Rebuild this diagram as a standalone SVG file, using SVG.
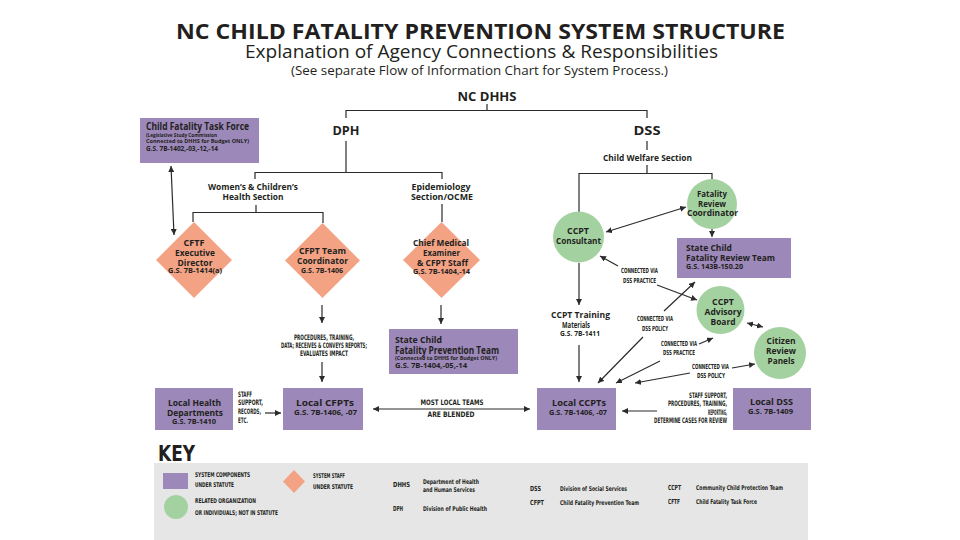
<svg xmlns="http://www.w3.org/2000/svg" width="960" height="540" viewBox="0 0 960 540">
<style>
text{font-family:"Open Sans","Liberation Sans",sans-serif;fill:#231f20;font-weight:700}
.m{text-anchor:middle}
.n{font-weight:400}
.c{font-family:"Liberation Sans Narrow","DejaVu Sans Condensed","Liberation Sans",sans-serif;font-weight:700}
.box{fill:#9c88b9}
.dia{fill:#f3a384}
.cir{fill:#a3d2a0}
.ln{fill:none;stroke:#2b2b2b;stroke-width:1.2}
.ar{fill:none;stroke:#2b2b2b;stroke-width:1.2;marker-end:url(#ah)}
.ar2{fill:none;stroke:#2b2b2b;stroke-width:1.2;marker-end:url(#ah);marker-start:url(#ah)}
.ars{fill:none;stroke:#2b2b2b;stroke-width:1.2;marker-start:url(#ah)}
</style>
<defs>
<marker id="ah" viewBox="0 0 6 6" refX="6" refY="3" markerWidth="6" markerHeight="6" markerUnits="userSpaceOnUse" orient="auto-start-reverse"><path d="M0,0 L6,3 L0,6 z" fill="#2b2b2b"/></marker>
</defs>
<rect width="960" height="540" fill="#ffffff"/>

<g id="title">
<text class="m" x="480.5" y="38.5" font-size="20.5" font-weight="800" textLength="609" lengthAdjust="spacingAndGlyphs">NC CHILD FATALITY PREVENTION SYSTEM STRUCTURE</text>
<text class="m n" x="481.5" y="58" font-size="18.5" textLength="473" lengthAdjust="spacingAndGlyphs">Explanation of Agency Connections &amp; Responsibilities</text>
<text class="m n" x="479.5" y="75" font-size="12" textLength="377" lengthAdjust="spacingAndGlyphs">(See separate Flow of Information Chart for System Process.)</text>
</g>

<g id="connectors">
<path class="ln" d="M487,104 V110.5 M346,118 V110.5 H647 V118"/>
<path class="ln" d="M346,141 V172.5 M255,179 V172.5 H442 V179"/>
<path class="ln" d="M256,205 V212.5 M193,222 V212.5 H323 V223"/>
<path class="ln" d="M442,204 V222"/>
<path class="ln" d="M647,141 V150 M647,165 V173.5 M579,212 V173.5 H712 V179"/>
<path class="ar2" d="M171,166 L174,235"/>
<path class="ar" d="M322,305 V323"/>
<path class="ar" d="M322,362 V382"/>
<path class="ar" d="M441,305 V324" stroke-width="2"/>
<path class="ar" d="M265,413 H281"/>
<path class="ar2" d="M373,409 H530"/>
<path class="ar" d="M657,411 H622"/>
<path class="ar2" d="M606,232 L686,207"/>
<path class="ar" d="M712,229 V237"/>
<path class="ar" d="M579,263 V305"/>
<path class="ar" d="M579,345 V382"/>
<path class="ars" d="M600,256 L618,266"/>
<path class="ar" d="M657,285 L697,300"/>
<path class="ars" d="M598,383 L643,337"/>
<path class="ar" d="M664,311 L695,282"/>
<path class="ars" d="M616,383 L660,361"/>
<path class="ar" d="M699,344 L713,338"/>
<path class="ars" d="M635,383 L690,373"/>
<path class="ar" d="M732,368 L755,364"/>
<path class="ar2" d="M747,323 L763,327"/>
</g>

<g id="labels">
<text class="m" x="487" y="101" font-size="12" textLength="59" lengthAdjust="spacingAndGlyphs">NC DHHS</text>
<text class="m" x="346" y="135" font-size="12" textLength="27" lengthAdjust="spacingAndGlyphs">DPH</text>
<text class="m" x="647" y="135" font-size="12" textLength="27" lengthAdjust="spacingAndGlyphs">DSS</text>
<text class="m" x="647.5" y="161" font-size="8" textLength="89" lengthAdjust="spacingAndGlyphs">Child Welfare Section</text>
<text class="m" x="253" y="190" font-size="8.5" textLength="90" lengthAdjust="spacingAndGlyphs">Women’s &amp; Children’s</text>
<text class="m" x="253" y="200" font-size="8.5" textLength="61" lengthAdjust="spacingAndGlyphs">Health Section</text>
<text class="m" x="441" y="190" font-size="8.5" textLength="59" lengthAdjust="spacingAndGlyphs">Epidemiology</text>
<text class="m" x="442" y="200" font-size="8.5" textLength="62" lengthAdjust="spacingAndGlyphs">Section/OCME</text>
<text class="m c" x="324" y="340" font-size="7.5" textLength="60" lengthAdjust="spacingAndGlyphs">PROCEDURES, TRAINING,</text>
<text class="m c" x="324" y="348" font-size="7.5" textLength="86" lengthAdjust="spacingAndGlyphs">DATA; RECEIVES &amp; CONVEYS REPORTS;</text>
<text class="m c" x="324" y="356" font-size="7.5" textLength="48" lengthAdjust="spacingAndGlyphs">EVALUATES IMPACT</text>
<text class="c" x="238" y="397" font-size="7.5" textLength="14" lengthAdjust="spacingAndGlyphs">STAFF</text>
<text class="c" x="238" y="405" font-size="7.5" textLength="25" lengthAdjust="spacingAndGlyphs">SUPPORT,</text>
<text class="c" x="238" y="414" font-size="7.5" textLength="23" lengthAdjust="spacingAndGlyphs">RECORDS,</text>
<text class="c" x="238" y="423" font-size="7.5" textLength="10" lengthAdjust="spacingAndGlyphs">ETC.</text>
<text class="m c" x="452" y="405" font-size="7.5" textLength="63" lengthAdjust="spacingAndGlyphs">MOST LOCAL TEAMS</text>
<text class="m c" x="451" y="417" font-size="7.5" textLength="47" lengthAdjust="spacingAndGlyphs">ARE BLENDED</text>
<text class="c" x="727" y="398" font-size="7.5" text-anchor="end" textLength="38" lengthAdjust="spacingAndGlyphs">STAFF SUPPORT,</text>
<text class="c" x="727" y="406" font-size="7.5" text-anchor="end" textLength="59" lengthAdjust="spacingAndGlyphs">PROCEDURES, TRAINING,</text>
<text class="c" x="727" y="415" font-size="7.5" text-anchor="end" textLength="19" lengthAdjust="spacingAndGlyphs">REPORTING,</text>
<text class="c" x="727" y="423" font-size="7.5" text-anchor="end" textLength="73" lengthAdjust="spacingAndGlyphs">DETERMINE CASES FOR REVIEW</text>
<text class="m c" x="639.5" y="273" font-size="7" textLength="37" lengthAdjust="spacingAndGlyphs">CONNECTED VIA</text>
<text class="m c" x="639.5" y="283" font-size="7" textLength="33" lengthAdjust="spacingAndGlyphs">DSS PRACTICE</text>
<text class="m c" x="655" y="321" font-size="7" textLength="36" lengthAdjust="spacingAndGlyphs">CONNECTED VIA</text>
<text class="m c" x="655" y="331" font-size="7" textLength="26" lengthAdjust="spacingAndGlyphs">DSS POLICY</text>
<text class="m c" x="679" y="346" font-size="7" textLength="36" lengthAdjust="spacingAndGlyphs">CONNECTED VIA</text>
<text class="m c" x="679" y="355" font-size="7" textLength="32" lengthAdjust="spacingAndGlyphs">DSS PRACTICE</text>
<text class="m c" x="710.5" y="369" font-size="7" textLength="37" lengthAdjust="spacingAndGlyphs">CONNECTED VIA</text>
<text class="m c" x="711" y="378" font-size="7" textLength="28" lengthAdjust="spacingAndGlyphs">DSS POLICY</text>
</g>

<g id="cftf-box">
<rect class="box" x="140" y="118" width="119" height="45"/>
<text x="146" y="130" font-size="10" textLength="103" lengthAdjust="spacingAndGlyphs">Child Fatality Task Force</text>
<text x="146" y="136.5" font-size="5.5" textLength="71" lengthAdjust="spacingAndGlyphs">(Legislative Study Commission</text>
<text x="146" y="142.5" font-size="5.5" textLength="103" lengthAdjust="spacingAndGlyphs">Connected to DHHS for Budget ONLY)</text>
<text x="146" y="150.5" font-size="7" textLength="72" lengthAdjust="spacingAndGlyphs">G.S. 7B-1402,-03,-12,-14</text>
</g>

<g id="cftf-director">
<polygon class="dia" points="194,222 232,260 194,298 156,260"/>
<text class="m" x="194" y="246" font-size="9" textLength="21" lengthAdjust="spacingAndGlyphs">CFTF</text>
<text class="m" x="195" y="256" font-size="9" textLength="40" lengthAdjust="spacingAndGlyphs">Executive</text>
<text class="m" x="195" y="266" font-size="9" textLength="35" lengthAdjust="spacingAndGlyphs">Director</text>
<text class="m" x="195" y="273" font-size="6.5" textLength="54" lengthAdjust="spacingAndGlyphs">G.S. 7B-1414(a)</text>
</g>

<g id="cfpt-coordinator">
<polygon class="dia" points="322.5,223 360,260.5 322.5,298 285,260.5"/>
<text class="m" x="322.5" y="254" font-size="9" textLength="47" lengthAdjust="spacingAndGlyphs">CFPT Team</text>
<text class="m" x="322.5" y="264" font-size="9" textLength="51" lengthAdjust="spacingAndGlyphs">Coordinator</text>
<text class="m" x="322" y="273" font-size="7" textLength="42" lengthAdjust="spacingAndGlyphs">G.S. 7B-1406</text>
</g>

<g id="chief-medical-examiner">
<polygon class="dia" points="441.5,222 480,260 441.5,298 403,260"/>
<text class="m" x="441" y="246" font-size="9" textLength="56" lengthAdjust="spacingAndGlyphs">Chief Medical</text>
<text class="m" x="441.5" y="256" font-size="9" textLength="37" lengthAdjust="spacingAndGlyphs">Examiner</text>
<text class="m" x="442.5" y="266" font-size="9" textLength="51" lengthAdjust="spacingAndGlyphs">&amp; CFPT Staff</text>
<text class="m" x="441.5" y="274" font-size="6.5" textLength="57" lengthAdjust="spacingAndGlyphs">G.S. 7B-1404,-14</text>
</g>

<g id="state-cfpt">
<rect class="box" x="389" y="329" width="129" height="45"/>
<text x="395" y="343" font-size="9.5" textLength="47" lengthAdjust="spacingAndGlyphs">State Child</text>
<text x="395" y="353.5" font-size="10.5" textLength="104" lengthAdjust="spacingAndGlyphs">Fatality Prevention Team</text>
<text x="395" y="360" font-size="5.5" textLength="102" lengthAdjust="spacingAndGlyphs">(Connected to DHHS for Budget ONLY)</text>
<text x="395" y="368" font-size="7" textLength="72" lengthAdjust="spacingAndGlyphs">G.S. 7B-1404,-05,-14</text>
</g>

<g id="local-health">
<rect class="box" x="155" y="388" width="78" height="42"/>
<text class="m" x="194.5" y="406" font-size="9.5" textLength="53" lengthAdjust="spacingAndGlyphs">Local Health</text>
<text class="m" x="195" y="416" font-size="9.5" textLength="56" lengthAdjust="spacingAndGlyphs">Departments</text>
<text class="m" x="194" y="424" font-size="7" textLength="44" lengthAdjust="spacingAndGlyphs">G.S. 7B-1410</text>
</g>

<g id="local-cfpts">
<rect class="box" x="283" y="388" width="80" height="42"/>
<text class="m" x="325" y="406" font-size="9.5" textLength="58" lengthAdjust="spacingAndGlyphs">Local CFPTs</text>
<text class="m" x="325.5" y="415" font-size="7" textLength="63" lengthAdjust="spacingAndGlyphs">G.S. 7B-1406, -07</text>
</g>

<g id="local-ccpts">
<rect class="box" x="537" y="388" width="79" height="42"/>
<text class="m" x="579" y="406" font-size="9.5" textLength="54" lengthAdjust="spacingAndGlyphs">Local CCPTs</text>
<text class="m" x="578" y="415" font-size="7" textLength="58" lengthAdjust="spacingAndGlyphs">G.S. 7B-1406, -07</text>
</g>

<g id="local-dss">
<rect class="box" x="733" y="388" width="78" height="42"/>
<text class="m" x="771.5" y="405" font-size="9.5" textLength="43" lengthAdjust="spacingAndGlyphs">Local DSS</text>
<text class="m" x="770.5" y="414" font-size="7" textLength="45" lengthAdjust="spacingAndGlyphs">G.S. 7B-1409</text>
</g>

<g id="fatality-review-coordinator">
<circle class="cir" cx="712" cy="204" r="25"/>
<text class="m" x="712" y="197" font-size="8.5" textLength="30" lengthAdjust="spacingAndGlyphs">Fatality</text>
<text class="m" x="712" y="207" font-size="8.5" textLength="28" lengthAdjust="spacingAndGlyphs">Review</text>
<text class="m" x="712.5" y="216" font-size="8.5" textLength="51" lengthAdjust="spacingAndGlyphs">Coordinator</text>
</g>

<g id="ccpt-consultant">
<circle class="cir" cx="578.5" cy="237" r="25.5"/>
<text class="m" x="578" y="234" font-size="8.5" textLength="22" lengthAdjust="spacingAndGlyphs">CCPT</text>
<text class="m" x="578.5" y="244" font-size="8.5" textLength="45" lengthAdjust="spacingAndGlyphs">Consultant</text>
</g>

<g id="state-cfrt">
<rect class="box" x="677" y="238" width="114" height="40"/>
<text x="686" y="251" font-size="9" textLength="46" lengthAdjust="spacingAndGlyphs">State Child</text>
<text x="686" y="261" font-size="9" textLength="89" lengthAdjust="spacingAndGlyphs">Fatality Review Team</text>
<text x="686" y="269" font-size="6.5" textLength="57" lengthAdjust="spacingAndGlyphs">G.S. 143B-150.20</text>
</g>

<g id="ccpt-training">
<text class="m" x="580.5" y="318" font-size="9" textLength="59" lengthAdjust="spacingAndGlyphs">CCPT Training</text>
<text class="m" x="576" y="328" font-size="9" textLength="28" lengthAdjust="spacingAndGlyphs">Materials</text>
<text class="m" x="580" y="336" font-size="6.5" textLength="40" lengthAdjust="spacingAndGlyphs">G.S. 7B-1411</text>
</g>

<g id="ccpt-advisory-board">
<circle class="cir" cx="720.5" cy="310" r="24"/>
<text class="m" x="723" y="305" font-size="8.5" textLength="22" lengthAdjust="spacingAndGlyphs">CCPT</text>
<text class="m" x="723" y="315" font-size="8.5" textLength="37" lengthAdjust="spacingAndGlyphs">Advisory</text>
<text class="m" x="723" y="325" font-size="8.5" textLength="25" lengthAdjust="spacingAndGlyphs">Board</text>
</g>

<g id="citizen-review-panels">
<circle class="cir" cx="780" cy="353" r="26"/>
<text class="m" x="781" y="344" font-size="8.5" textLength="29" lengthAdjust="spacingAndGlyphs">Citizen</text>
<text class="m" x="781" y="354" font-size="8.5" textLength="30" lengthAdjust="spacingAndGlyphs">Review</text>
<text class="m" x="781" y="364" font-size="8.5" textLength="27" lengthAdjust="spacingAndGlyphs">Panels</text>
</g>

<g id="key">
<text class="c" x="158" y="461" font-size="21" textLength="37" lengthAdjust="spacingAndGlyphs">KEY</text>
<rect x="154" y="463" width="654" height="77" fill="#e6e6e6"/>
<rect class="box" x="163" y="473" width="25" height="16"/>
<circle class="cir" cx="176" cy="507" r="12"/>
<polygon class="dia" points="294,470 305,481.5 294,493 283,481.5"/>
<text class="c" x="195" y="477" font-size="6.5" textLength="55" lengthAdjust="spacingAndGlyphs">SYSTEM COMPONENTS</text>
<text class="c" x="195" y="487" font-size="6.5" textLength="39" lengthAdjust="spacingAndGlyphs">UNDER STATUTE</text>
<text class="c" x="195" y="503" font-size="6.5" textLength="61" lengthAdjust="spacingAndGlyphs">RELATED ORGANIZATION</text>
<text class="c" x="195" y="515" font-size="6.5" textLength="83" lengthAdjust="spacingAndGlyphs">OR INDIVIDUALS; NOT IN STATUTE</text>
<text class="c" x="313" y="478" font-size="6.5" textLength="32" lengthAdjust="spacingAndGlyphs">SYSTEM STAFF</text>
<text class="c" x="313" y="489" font-size="6.5" textLength="40" lengthAdjust="spacingAndGlyphs">UNDER STATUTE</text>
<text class="c" x="393" y="487" font-size="7" textLength="17" lengthAdjust="spacingAndGlyphs">DHHS</text>
<text class="c" x="423" y="484" font-size="6.5" textLength="56" lengthAdjust="spacingAndGlyphs">Department of Health</text>
<text class="c" x="423" y="492" font-size="6.5" textLength="52" lengthAdjust="spacingAndGlyphs">and Human Services</text>
<text class="c" x="393" y="511" font-size="7" textLength="10" lengthAdjust="spacingAndGlyphs">DPH</text>
<text class="c" x="423" y="511" font-size="6.5" textLength="64" lengthAdjust="spacingAndGlyphs">Division of Public Health</text>
<text class="c" x="530" y="491" font-size="7" textLength="11" lengthAdjust="spacingAndGlyphs">DSS</text>
<text class="c" x="560" y="491" font-size="6.5" textLength="67" lengthAdjust="spacingAndGlyphs">Division of Social Services</text>
<text class="c" x="530" y="505" font-size="7" textLength="14" lengthAdjust="spacingAndGlyphs">CFPT</text>
<text class="c" x="560" y="505" font-size="6.5" textLength="79" lengthAdjust="spacingAndGlyphs">Child Fatality Prevention Team</text>
<text class="c" x="668" y="490" font-size="7" textLength="13" lengthAdjust="spacingAndGlyphs">CCPT</text>
<text class="c" x="696" y="490" font-size="6.5" textLength="87" lengthAdjust="spacingAndGlyphs">Community Child Protection Team</text>
<text class="c" x="668" y="504" font-size="7" textLength="12" lengthAdjust="spacingAndGlyphs">CFTF</text>
<text class="c" x="696" y="504" font-size="6.5" textLength="61" lengthAdjust="spacingAndGlyphs">Child Fatality Task Force</text>
</g>
</svg>
